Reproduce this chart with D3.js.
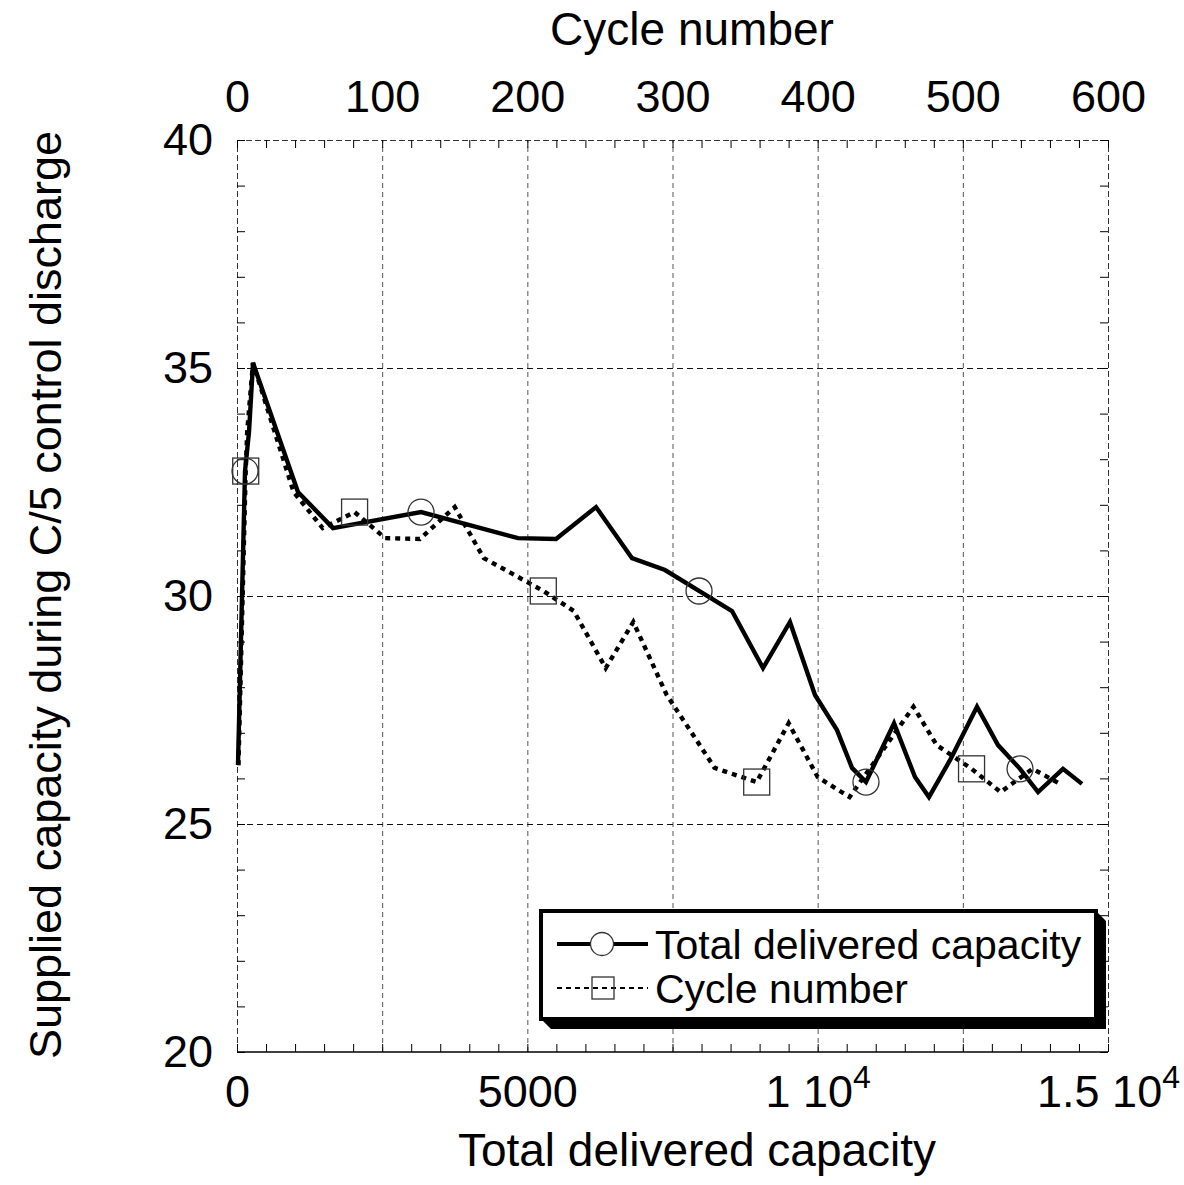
<!DOCTYPE html>
<html>
<head>
<meta charset="utf-8">
<script src="https://cdn.jsdelivr.net/npm/d3@7"></script>
<style>
  html, body { margin: 0; padding: 0; background: #fff; }
  svg { display: block; }
  text { font-family: "Liberation Sans", Arial, Helvetica, sans-serif; fill: #000; }
</style>
</head>
<body>
<svg id="chart" width="1184" height="1185"></svg>
<script>
// Supplied capacity measured during each C/5 control discharge
const capacity = [26.29, 32.74, 33.60, 35.11, 32.28, 31.49, 31.84, 31.27, 31.25, 31.95,
                  30.83, 30.57, 30.11, 29.67, 28.42, 29.43, 27.83, 27.06, 26.23, 25.92,
                  27.21, 26.03, 25.59, 26.40, 27.57, 26.73, 26.21, 25.70, 26.21, 25.88];
// Total capacity delivered before each control discharge (bottom axis)
const totalDelivered = [17, 138, 207, 276, 1050, 1653, 3169, 4839, 5494, 6183,
                        6803, 7371, 7957, 8525, 9059, 9523, 9954, 10333, 10592, 10832,
                        11315, 11676, 11917, 12279, 12744, 13106, 13485, 13795, 14225, 14552];
// Cycle number of each control discharge (top axis)
const cycleNumber = [1, 6, 7, 11, 39, 59, 81, 102, 126, 150,
                     170, 185, 211, 232, 254, 273, 296, 312, 329, 358,
                     380, 400, 422, 440, 466, 482, 506, 526, 548, 567];
// Points that carry a symbol
const markerIndex = [1, 6, 12, 19, 26];

const seriesNames = ["Total delivered capacity", "Cycle number"];
const yTicks = [20, 25, 30, 35, 40];
const xTicks = [0, 5000, 10000, 15000];
const xTickLabels = ["0", "5000", "1 10^4", "1.5 10^4"];
const topTicks = [0, 100, 200, 300, 400, 500, 600];
const xGrid = [2500, 5000, 7500, 10000, 12500];
const yGrid = [25, 30, 35];

const svg = d3.select("#chart");
const L = 237, R = 1108, T = 140, B = 1052;
const W = R - L, H = B - T;
const FONT = "Liberation Sans, Arial, sans-serif";

const x = d3.scaleLinear().domain([0, 15000]).range([L, R]);
const xTop = d3.scaleLinear().domain([0, 600]).range([L, R]);
const y = d3.scaleLinear().domain([20, 40]).range([B, T]);

// ---- dashed grid, including the upper and side frame edges
const grid = svg.append("g");
grid.append("g").attr("transform", `translate(0,${B})`)
  .call(d3.axisBottom(x).tickValues(xGrid).tickSize(-H).tickFormat(""))
  .call(g => g.select(".domain").remove())
  .selectAll("line").attr("stroke", "#555").attr("stroke-dasharray", "5,4");
grid.append("g").attr("transform", `translate(${L},0)`)
  .call(d3.axisLeft(y).tickValues(yGrid).tickSize(-W).tickFormat(""))
  .call(g => g.select(".domain").remove())
  .selectAll("line").attr("stroke", "#111").attr("stroke-dasharray", "6,4");
grid.append("g").attr("transform", `translate(0,${B})`)
  .call(d3.axisBottom(x).tickValues([0, 15000]).tickSize(-H).tickFormat(""))
  .call(g => g.select(".domain").remove())
  .selectAll("line").attr("stroke", "#333").attr("stroke-dasharray", "6,3");
grid.append("g").attr("transform", `translate(${L},0)`)
  .call(d3.axisLeft(y).tickValues([40]).tickSize(-W).tickFormat(""))
  .call(g => g.select(".domain").remove())
  .selectAll("line").attr("stroke", "#333").attr("stroke-dasharray", "6,3");

// ---- inward minor ticks on all four sides
const minorX = d3.range(0, 15001, 500);
const minorTop = d3.range(0, 601, 20);
const minorY = d3.range(20, 40.01, 1);
function tickStyle(g) {
  g.select(".domain").remove();
  g.selectAll("line").attr("stroke", "#000").attr("stroke-width", 1);
}
svg.append("g").attr("transform", `translate(0,${B})`)
  .call(d3.axisBottom(x).tickValues(minorX).tickSize(-8).tickFormat("")).call(tickStyle);
svg.append("g").attr("transform", `translate(0,${T})`)
  .call(d3.axisTop(xTop).tickValues(minorTop).tickSize(-8).tickFormat("")).call(tickStyle);
svg.append("g").attr("transform", `translate(${L},0)`)
  .call(d3.axisLeft(y).tickValues(minorY).tickSize(-8).tickFormat("")).call(tickStyle);
svg.append("g").attr("transform", `translate(${R},0)`)
  .call(d3.axisRight(y).tickValues(minorY).tickSize(-8).tickFormat("")).call(tickStyle);

// solid bottom axis line
svg.append("line").attr("x1", L).attr("x2", R).attr("y1", B).attr("y2", B)
  .attr("stroke", "#000").attr("stroke-width", 1.5);

// ---- tick labels
const bottomAxis = svg.append("g").attr("transform", `translate(0,${B})`)
  .call(d3.axisBottom(x).tickValues(xTicks).tickSize(0).tickPadding(23)
        .tickFormat((d, i) => xTickLabels[i]));
bottomAxis.select(".domain").remove();
bottomAxis.selectAll("text")
  .attr("font-size", 45).attr("font-family", FONT).attr("fill", "#000")
  .each(function(d, i) {
    const parts = xTickLabels[i].split("^");
    if (parts.length === 2) {
      const t = d3.select(this).text(null);
      t.append("tspan").text(parts[0]);
      t.append("tspan").attr("dy", -19).attr("font-size", 32).text(parts[1]);
    }
  });

const topAxis = svg.append("g").attr("transform", `translate(0,${T})`)
  .call(d3.axisTop(xTop).tickValues(topTicks).tickSize(0).tickPadding(28).tickFormat(d3.format("d")));
topAxis.select(".domain").remove();
topAxis.selectAll("text").attr("font-size", 45).attr("font-family", FONT).attr("fill", "#000");

const leftAxis = svg.append("g").attr("transform", `translate(${L},0)`)
  .call(d3.axisLeft(y).tickValues(yTicks).tickSize(0).tickPadding(24).tickFormat(d3.format("d")));
leftAxis.select(".domain").remove();
leftAxis.selectAll("text").attr("font-size", 45).attr("font-family", FONT).attr("fill", "#000");

// ---- axis titles
svg.append("text").attr("x", 697).attr("y", 1166).attr("text-anchor", "middle")
  .attr("font-size", 46).text("Total delivered capacity");
svg.append("text").attr("x", 692).attr("y", 45).attr("text-anchor", "middle")
  .attr("font-size", 46).text("Cycle number");
svg.append("text").attr("transform", "translate(61,595) rotate(-90)")
  .attr("text-anchor", "middle").attr("font-size", 45)
  .text("Supplied capacity during C/5 control discharge");

// ---- series
const idx = d3.range(capacity.length);
const solidLine = d3.line().x(i => x(totalDelivered[i])).y(i => y(capacity[i]));
const dottedLine = d3.line().x(i => xTop(cycleNumber[i])).y(i => y(capacity[i]));

svg.append("path").attr("d", dottedLine(idx)).attr("fill", "none")
  .attr("stroke", "#000").attr("stroke-width", 4.4).attr("stroke-dasharray", "5,5");
svg.append("path").attr("d", solidLine(idx)).attr("fill", "none")
  .attr("stroke", "#000").attr("stroke-width", 4.4).attr("stroke-linejoin", "miter");

svg.append("g").selectAll("rect").data(markerIndex).join("rect")
  .attr("x", i => xTop(cycleNumber[i]) - 13).attr("y", i => y(capacity[i]) - 13)
  .attr("width", 26).attr("height", 26)
  .attr("fill", "none").attr("stroke", "#333").attr("stroke-width", 1.3);
svg.append("g").selectAll("circle").data(markerIndex).join("circle")
  .attr("cx", i => x(totalDelivered[i])).attr("cy", i => y(capacity[i])).attr("r", 13)
  .attr("fill", "none").attr("stroke", "#333").attr("stroke-width", 1.3);

// ---- legend with drop shadow
const lg = { x: 541, y: 911, w: 555, h: 108, s: 10 };
svg.append("polygon")
  .attr("points", [
    [lg.x + lg.w, lg.y], [lg.x + lg.w + lg.s, lg.y + lg.s],
    [lg.x + lg.w + lg.s, lg.y + lg.h + lg.s], [lg.x + lg.s, lg.y + lg.h + lg.s],
    [lg.x, lg.y + lg.h]
  ].map(p => p.join(",")).join(" "))
  .attr("fill", "#000");
svg.append("rect").attr("x", lg.x).attr("y", lg.y).attr("width", lg.w).attr("height", lg.h)
  .attr("fill", "#fff").attr("stroke", "#000").attr("stroke-width", 4);

const rows = [
  { name: seriesNames[0], yy: 944, dash: null, width: 4, shape: "circle" },
  { name: seriesNames[1], yy: 988, dash: "5,4", width: 2.2, shape: "square" }
];
rows.forEach(r => {
  svg.append("line").attr("x1", 557).attr("x2", 648).attr("y1", r.yy).attr("y2", r.yy)
    .attr("stroke", "#000").attr("stroke-width", r.width)
    .attr("stroke-dasharray", r.dash);
  if (r.shape === "circle") {
    svg.append("circle").attr("cx", 602).attr("cy", r.yy).attr("r", 11.5)
      .attr("fill", "#fff").attr("stroke", "#333").attr("stroke-width", 1.3);
  } else {
    svg.append("rect").attr("x", 592).attr("y", r.yy - 11).attr("width", 22).attr("height", 22)
      .attr("fill", "none").attr("stroke", "#333").attr("stroke-width", 1.3);
  }
  svg.append("text").attr("x", 655).attr("y", r.yy + 15).attr("font-size", 41).text(r.name);
});
</script>
</body>
</html>
